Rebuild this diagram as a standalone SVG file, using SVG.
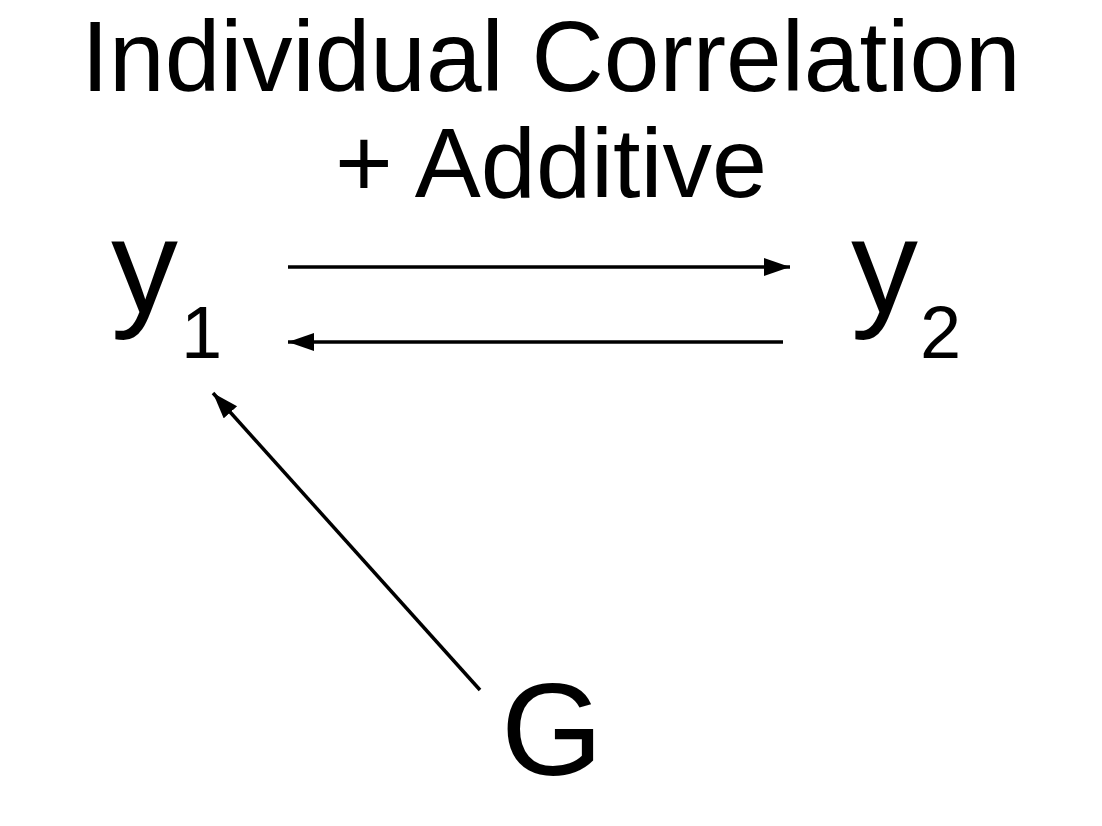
<svg xmlns="http://www.w3.org/2000/svg" width="1102" height="826" viewBox="0 0 1102 826">
<style>
.t{font-family:"Liberation Sans",Arial,sans-serif;fill:#000}
.c{stroke:#000;stroke-width:3.5;fill:none}
</style>
<defs>
<marker id="ah" markerUnits="userSpaceOnUse" markerWidth="28" markerHeight="20" refX="26" refY="9" orient="auto" viewBox="0 0 28 20">
<path d="M0,0 L26,9 L0,18 Z" fill="#000"/>
</marker>
</defs>
<rect width="1102" height="826" fill="#fff"/>
<g id="title">
<text class="t" x="551" y="91" font-size="100" text-anchor="middle">Individual Correlation</text>
<text class="t" x="551" y="197" font-size="99" text-anchor="middle">+ Additive</text>
</g>
<g id="connectors">
<line class="c" x1="288" y1="267" x2="790" y2="267" marker-end="url(#ah)"/>
<line class="c" x1="783" y1="342" x2="288" y2="342" marker-end="url(#ah)"/>
<line class="c" x1="480" y1="690" x2="213" y2="393" marker-end="url(#ah)"/>
</g>
<g id="y1">
<text class="t" x="111" y="312" font-size="134">y</text>
<text class="t" x="181" y="358" font-size="74">1</text>
</g>
<g id="y2">
<text class="t" x="851" y="312" font-size="134">y</text>
<text class="t" x="920" y="358" font-size="74">2</text>
</g>
<g id="G">
<text class="t" x="501" y="775" font-size="131">G</text>
</g>
</svg>
